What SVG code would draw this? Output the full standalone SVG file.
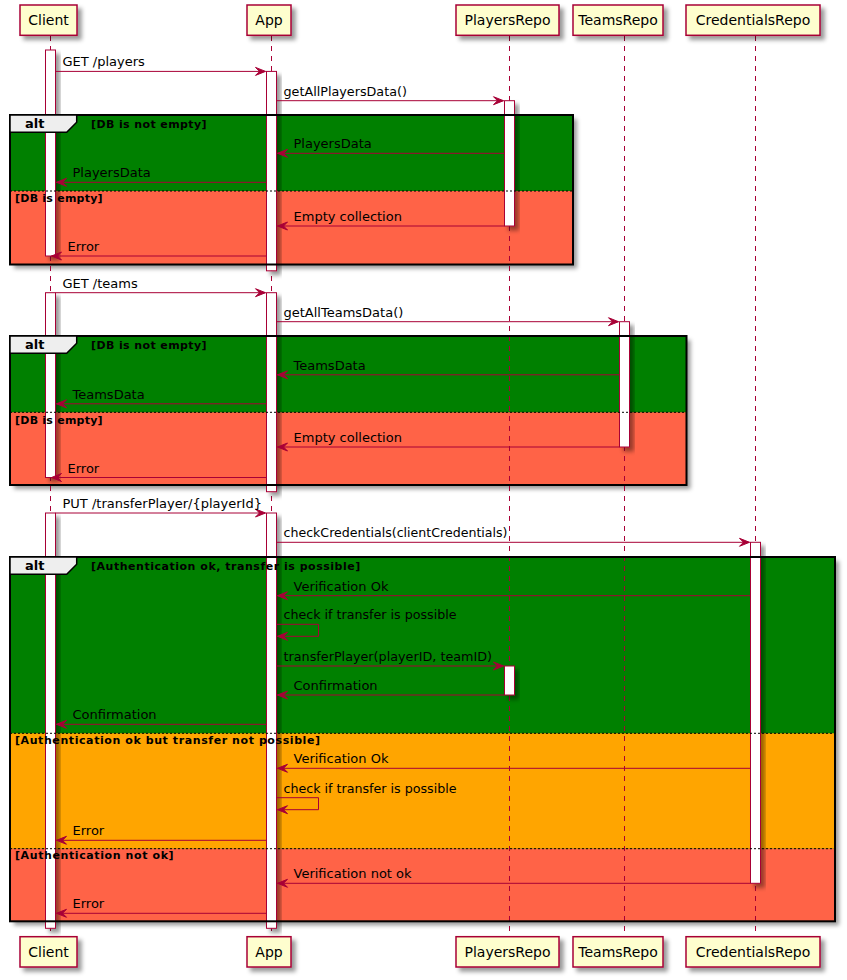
<svg xmlns="http://www.w3.org/2000/svg" width="847" height="980" viewBox="0 0 847 980">
<defs>
<filter id="sh" x="-50%" y="-50%" width="200%" height="200%">
<feGaussianBlur in="SourceAlpha" stdDeviation="2"/>
<feColorMatrix type="matrix" values="0 0 0 0 0 0 0 0 0 0 0 0 0 0 0 0 0 0 0.4 0" result="b"/>
<feOffset in="b" dx="4" dy="4" result="o"/>
<feMerge><feMergeNode in="o"/><feMergeNode in="SourceGraphic"/></feMerge>
</filter>
<style>
.pbox{fill:#FEFECE;stroke:#A80036;stroke-width:1.5;filter:url(#sh)}
.pt{font-family:"DejaVu Sans",sans-serif;font-size:14px;fill:#000;text-anchor:middle}
.life{stroke:#A80036;stroke-width:1;stroke-dasharray:5,5;fill:none}
.act{fill:#FFFFFF;stroke:#A80036;stroke-width:1;filter:url(#sh)}
.frm{stroke:none;filter:url(#sh)}
.fb{fill:none;stroke:#000;stroke-width:2}
.div{stroke:#000;stroke-width:1;stroke-dasharray:2,2}
.tab{fill:#EEEEEE;stroke:#000;stroke-width:1.5}
.alt{font-family:"DejaVu Sans",sans-serif;font-size:13px;font-weight:bold;fill:#000}
.g{font-family:"DejaVu Sans",sans-serif;font-size:11px;font-weight:bold;fill:#000}
.m{stroke:#A80036;stroke-width:1;fill:none}
.ah{fill:#A80036;stroke:#A80036;stroke-width:1}
.mt{font-family:"DejaVu Sans",sans-serif;font-size:13px;fill:#000}
</style>
</defs>
<rect width="847" height="980" fill="#FFFFFF"/>

<g id="frame-backgrounds">
<rect class="frm" x="10" y="115" width="563" height="149.5" fill="#008000"/>
<rect x="10" y="191" width="563" height="73.5" fill="#FF6347"/>
<rect class="frm" x="10" y="336" width="676.5" height="149" fill="#008000"/>
<rect x="10" y="412.3" width="676.5" height="72.7" fill="#FF6347"/>
<rect class="frm" x="10" y="557" width="825" height="364.3" fill="#008000"/>
<rect x="10" y="733.3" width="825" height="115.4" fill="#FFA500"/>
<rect x="10" y="848.7" width="825" height="72.6" fill="#FF6347"/>
</g>

<g id="lifelines">
<line class="life" x1="50.5" y1="36" x2="50.5" y2="937"/>
<line class="life" x1="271.5" y1="36" x2="271.5" y2="937"/>
<line class="life" x1="509.5" y1="36" x2="509.5" y2="937"/>
<line class="life" x1="624.5" y1="36" x2="624.5" y2="937"/>
<line class="life" x1="755.5" y1="36" x2="755.5" y2="937"/>
</g>

<g id="Client">
<rect class="pbox" x="20" y="5" width="57" height="30.3"/>
<text class="pt" x="48.5" y="25">Client</text>
<rect class="pbox" x="20" y="936.7" width="57" height="30.3"/>
<text class="pt" x="48.5" y="956.7">Client</text>
<rect class="act" x="45.5" y="50" width="10" height="206"/>
<rect class="act" x="45.5" y="292.7" width="10" height="184.8"/>
<rect class="act" x="45.5" y="513" width="10" height="415.3"/>
</g>
<g id="App">
<rect class="pbox" x="247" y="5" width="44" height="30.3"/>
<text class="pt" x="269" y="25">App</text>
<rect class="pbox" x="247" y="936.7" width="44" height="30.3"/>
<text class="pt" x="269" y="956.7">App</text>
<rect class="act" x="266.5" y="71.4" width="10" height="199.4"/>
<rect class="act" x="266.5" y="292.7" width="10" height="199"/>
<rect class="act" x="266.5" y="513" width="10" height="415.3"/>
</g>
<g id="PlayersRepo">
<rect class="pbox" x="456" y="5" width="103" height="30.3"/>
<text class="pt" x="507.5" y="25">PlayersRepo</text>
<rect class="pbox" x="456" y="936.7" width="103" height="30.3"/>
<text class="pt" x="507.5" y="956.7">PlayersRepo</text>
<rect class="act" x="504.5" y="100.7" width="10" height="125.3"/>
<rect class="act" x="504.5" y="666" width="10" height="29"/>
</g>
<g id="TeamsRepo">
<rect class="pbox" x="573" y="5" width="90" height="30.3"/>
<text class="pt" x="618" y="25">TeamsRepo</text>
<rect class="pbox" x="573" y="936.7" width="90" height="30.3"/>
<text class="pt" x="618" y="956.7">TeamsRepo</text>
<rect class="act" x="619.5" y="321.7" width="10" height="125.3"/>
</g>
<g id="CredentialsRepo">
<rect class="pbox" x="686" y="5" width="134" height="30.3"/>
<text class="pt" x="753" y="25">CredentialsRepo</text>
<rect class="pbox" x="686" y="936.7" width="134" height="30.3"/>
<text class="pt" x="753" y="956.7">CredentialsRepo</text>
<rect class="act" x="750.5" y="542.3" width="10" height="341"/>
</g>

<g id="frames">
<g id="frame1">
<rect class="fb" x="10" y="115" width="563" height="149.5"/>
<line class="div" x1="10" y1="191" x2="573" y2="191"/>
<polygon class="tab" points="10,115 76.7,115 76.7,122.3 66.7,132.3 10,132.3"/>
<text class="alt" x="25" y="128.3">alt</text>
<text class="g" x="91" y="128" textLength="115.5" lengthAdjust="spacing">[DB is not empty]</text>
<text class="g" x="15" y="202.3" textLength="87.6" lengthAdjust="spacing">[DB is empty]</text>
</g>
<g id="frame2">
<rect class="fb" x="10" y="336" width="676.5" height="149"/>
<line class="div" x1="10" y1="412.3" x2="686.5" y2="412.3"/>
<polygon class="tab" points="10,336 76.7,336 76.7,343.3 66.7,353.3 10,353.3"/>
<text class="alt" x="25" y="349.3">alt</text>
<text class="g" x="91" y="349" textLength="115.5" lengthAdjust="spacing">[DB is not empty]</text>
<text class="g" x="15" y="423.5" textLength="87.6" lengthAdjust="spacing">[DB is empty]</text>
</g>
<g id="frame3">
<rect class="fb" x="10" y="557" width="825" height="364.3"/>
<line class="div" x1="10" y1="733.3" x2="835" y2="733.3"/>
<line class="div" x1="10" y1="848.7" x2="835" y2="848.7"/>
<polygon class="tab" points="10,557 76.7,557 76.7,564.3 66.7,574.3 10,574.3"/>
<text class="alt" x="25" y="570.3">alt</text>
<text class="g" x="91" y="570" textLength="269.3" lengthAdjust="spacing">[Authentication ok, transfer is possible]</text>
<text class="g" x="15" y="744.3" textLength="305" lengthAdjust="spacing">[Authentication ok but transfer not possible]</text>
<text class="g" x="15" y="859" textLength="158.6" lengthAdjust="spacing">[Authentication not ok]</text>
</g>
</g>

<g id="connectors">
<line class="m" x1="55.5" y1="71.4" x2="265.5" y2="71.4"/>
<polygon class="ah" points="255.5,67.4 265.5,71.4 255.5,75.4 259.5,71.4"/>
<text class="mt" x="62.5" y="66.4">GET /players</text>

<line class="m" x1="276.5" y1="100.7" x2="503.5" y2="100.7"/>
<polygon class="ah" points="493.5,96.7 503.5,100.7 493.5,104.7 497.5,100.7"/>
<text class="mt" x="283.5" y="95.7" textLength="123.4" lengthAdjust="spacingAndGlyphs">getAllPlayersData()</text>

<line class="m" x1="277.5" y1="153.3" x2="504.5" y2="153.3"/>
<polygon class="ah" points="287.5,149.3 277.5,153.3 287.5,157.3 283.5,153.3"/>
<text class="mt" x="293.5" y="148.3">PlayersData</text>

<line class="m" x1="56.5" y1="182.3" x2="266.5" y2="182.3"/>
<polygon class="ah" points="66.5,178.3 56.5,182.3 66.5,186.3 62.5,182.3"/>
<text class="mt" x="72.5" y="177.3">PlayersData</text>

<line class="m" x1="277.5" y1="226" x2="504.5" y2="226"/>
<polygon class="ah" points="287.5,222 277.5,226 287.5,230 283.5,226"/>
<text class="mt" x="293.5" y="221">Empty collection</text>

<line class="m" x1="51.5" y1="256" x2="266.5" y2="256"/>
<polygon class="ah" points="61.5,252 51.5,256 61.5,260 57.5,256"/>
<text class="mt" x="67.5" y="251">Error</text>

<line class="m" x1="55.5" y1="292.7" x2="265.5" y2="292.7"/>
<polygon class="ah" points="255.5,288.7 265.5,292.7 255.5,296.7 259.5,292.7"/>
<text class="mt" x="62.5" y="287.7">GET /teams</text>

<line class="m" x1="276.5" y1="321.7" x2="618.5" y2="321.7"/>
<polygon class="ah" points="608.5,317.7 618.5,321.7 608.5,325.7 612.5,321.7"/>
<text class="mt" x="283.5" y="316.7">getAllTeamsData()</text>

<line class="m" x1="277.5" y1="374.8" x2="619.5" y2="374.8"/>
<polygon class="ah" points="287.5,370.8 277.5,374.8 287.5,378.8 283.5,374.8"/>
<text class="mt" x="293.5" y="369.8">TeamsData</text>

<line class="m" x1="56.5" y1="403.8" x2="266.5" y2="403.8"/>
<polygon class="ah" points="66.5,399.8 56.5,403.8 66.5,407.8 62.5,403.8"/>
<text class="mt" x="72.5" y="398.8">TeamsData</text>

<line class="m" x1="277.5" y1="447" x2="619.5" y2="447"/>
<polygon class="ah" points="287.5,443 277.5,447 287.5,451 283.5,447"/>
<text class="mt" x="293.5" y="442">Empty collection</text>

<line class="m" x1="51.5" y1="477.5" x2="266.5" y2="477.5"/>
<polygon class="ah" points="61.5,473.5 51.5,477.5 61.5,481.5 57.5,477.5"/>
<text class="mt" x="67.5" y="472.5">Error</text>

<line class="m" x1="55.5" y1="513" x2="265.5" y2="513"/>
<polygon class="ah" points="255.5,509 265.5,513 255.5,517 259.5,513"/>
<text class="mt" x="62.5" y="508">PUT /transferPlayer/{playerId}</text>

<line class="m" x1="276.5" y1="542.3" x2="749.5" y2="542.3"/>
<polygon class="ah" points="739.5,538.3 749.5,542.3 739.5,546.3 743.5,542.3"/>
<text class="mt" x="283.5" y="537.3" textLength="224" lengthAdjust="spacingAndGlyphs">checkCredentials(clientCredentials)</text>

<line class="m" x1="277.5" y1="595.7" x2="750.5" y2="595.7"/>
<polygon class="ah" points="287.5,591.7 277.5,595.7 287.5,599.7 283.5,595.7"/>
<text class="mt" x="293.5" y="590.7">Verification Ok</text>

<polyline class="m" points="276.5,624.3 318.5,624.3 318.5,636.3 277.5,636.3"/>
<polygon class="ah" points="287.5,632.3 277.5,636.3 287.5,640.3 283.5,636.3"/>
<text class="mt" x="283.5" y="619.3" textLength="173" lengthAdjust="spacingAndGlyphs">check if transfer is possible</text>

<line class="m" x1="276.5" y1="666" x2="503.5" y2="666"/>
<polygon class="ah" points="493.5,662 503.5,666 493.5,670 497.5,666"/>
<text class="mt" x="283.5" y="661" textLength="208.6" lengthAdjust="spacingAndGlyphs">transferPlayer(playerID, teamID)</text>

<line class="m" x1="277.5" y1="695" x2="504.5" y2="695"/>
<polygon class="ah" points="287.5,691 277.5,695 287.5,699 283.5,695"/>
<text class="mt" x="293.5" y="690">Confirmation</text>

<line class="m" x1="56.5" y1="724.3" x2="266.5" y2="724.3"/>
<polygon class="ah" points="66.5,720.3 56.5,724.3 66.5,728.3 62.5,724.3"/>
<text class="mt" x="72.5" y="719.3">Confirmation</text>

<line class="m" x1="277.5" y1="768.3" x2="750.5" y2="768.3"/>
<polygon class="ah" points="287.5,764.3 277.5,768.3 287.5,772.3 283.5,768.3"/>
<text class="mt" x="293.5" y="763.3">Verification Ok</text>

<polyline class="m" points="276.5,797.7 318.5,797.7 318.5,809.7 277.5,809.7"/>
<polygon class="ah" points="287.5,805.7 277.5,809.7 287.5,813.7 283.5,809.7"/>
<text class="mt" x="283.5" y="792.7" textLength="173" lengthAdjust="spacingAndGlyphs">check if transfer is possible</text>

<line class="m" x1="56.5" y1="840.3" x2="266.5" y2="840.3"/>
<polygon class="ah" points="66.5,836.3 56.5,840.3 66.5,844.3 62.5,840.3"/>
<text class="mt" x="72.5" y="835.3">Error</text>

<line class="m" x1="277.5" y1="883.3" x2="750.5" y2="883.3"/>
<polygon class="ah" points="287.5,879.3 277.5,883.3 287.5,887.3 283.5,883.3"/>
<text class="mt" x="293.5" y="878.3">Verification not ok</text>

<line class="m" x1="56.5" y1="913.3" x2="266.5" y2="913.3"/>
<polygon class="ah" points="66.5,909.3 56.5,913.3 66.5,917.3 62.5,913.3"/>
<text class="mt" x="72.5" y="908.3">Error</text>
</g>
</svg>
